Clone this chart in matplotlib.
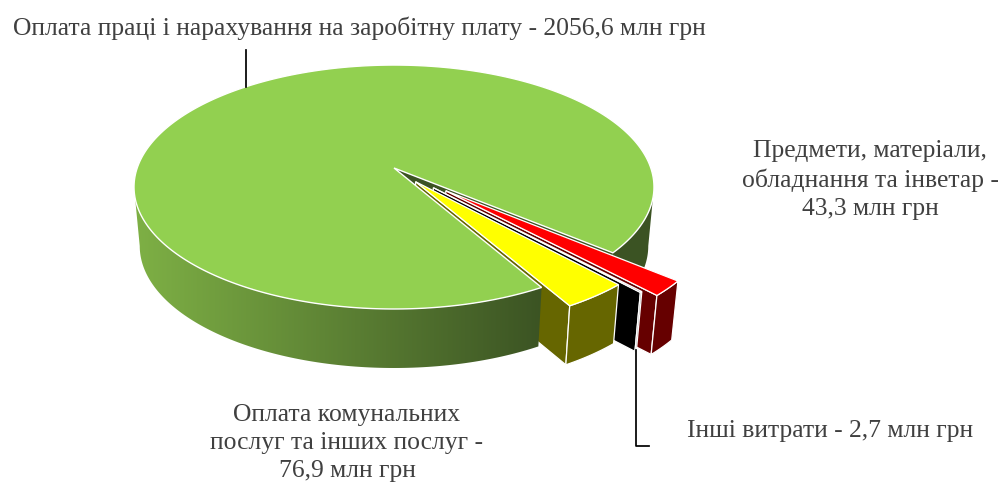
import numpy as np
import matplotlib
matplotlib.use("Agg")
import matplotlib.pyplot as plt
from matplotlib.patches import Polygon

# Data (clockwise from the start of the big slice)
names = ["Оплата праці", "Предмети", "Інші витрати", "Оплата комунальних"]
values = [2056.6, 43.3, 2.7, 76.9]
explode = [0.0, 0.27, 0.22, 0.14]
top_colors = ["#92D050", "#FF0000", "#000000", "#FFFF00"]
side_colors = ["#3B5323", "#660000", "#000000", "#666600"]

start_angle = 60.2

# Perspective of the disc, in pixels
CX, CY = 394.0, 168.0
A, B, K = 256.8, 119.0, 0.156
DEPTH = 59.0
SHRINK = 0.978
EDGE = np.degrees(np.arcsin(K))


def project(u, v):
    w = 1 - K * v
    return CX + A * u / w, CY + B * v / w


def lower(x, y):
    return CX + (x - CX) * SHRINK, y + DEPTH


def arc(a0, a1, off=(0, 0), n=120):
    t = np.radians(np.linspace(a0, a1, n))
    return project(np.cos(t) + off[0], np.sin(t) + off[1])


def strip(x, y):
    xb, yb = lower(x, y)
    return np.r_[np.c_[x, y], np.c_[xb, yb][::-1]]


fig = plt.figure(figsize=(10.03, 4.82), dpi=100)
ax = fig.add_axes([0, 0, 1, 1])

# Slice angles from the values
total = sum(values)
spans = [v / total * 360 for v in values]
starts = [start_angle + sum(spans[:i]) for i in range(len(spans))]
ends = [s + p for s, p in zip(starts, spans)]

# Big slice: inner wall, sides, top
g0, g1 = starts[0], ends[0]
px, py = project(0.0, 0.0)
ex, ey = arc(g1, g1, n=1)
wall = strip(np.array([px, ex[0]]), np.array([py, ey[0]]))
ax.add_patch(Polygon(wall, fc=side_colors[0], ec="none", zorder=1))

rx, ry = arc(EDGE, g1 - 360)
ax.add_patch(Polygon(strip(rx, ry), fc=side_colors[0], ec="none", zorder=1))

fx, fy = arc(g0, 180 - EDGE)
front = Polygon(strip(fx, fy), fc="none", ec="none", zorder=3)
ax.add_patch(front)
grad = np.linspace(0, 1, 256).reshape(1, -1, 1)
light = np.array([0x7E, 0xB0, 0x45]) / 255
dark = np.array([0x3B, 0x53, 0x23]) / 255
img = ax.imshow(light + (dark - light) * grad, extent=[135, 545, 400, 150],
                aspect="auto", zorder=3, interpolation="bilinear")
img.set_clip_path(front)

tx, ty = arc(g0, g1, n=400)
ax.add_patch(Polygon(np.r_[[[px, py]], np.c_[tx, ty]], fc=top_colors[0], ec="white", lw=1.0, zorder=4))

# Pulled out slices
for i in [1, 2, 3]:
    mid = np.radians((starts[i] + ends[i]) / 2)
    off = (explode[i] * np.cos(mid), explode[i] * np.sin(mid))
    ox, oy = project(off[0], off[1])
    ax_, ay_ = arc(starts[i], ends[i], off, n=30)
    z = 5 + i
    wx = np.array([ox, ax_[-1]])
    wy = np.array([oy, ay_[-1]])
    # cut wall sits behind the big slice, only its outer end shows
    ax.add_patch(Polygon(strip(wx, wy), fc=side_colors[i], ec="white", lw=0.9, zorder=2))
    ax.add_patch(Polygon(strip(ax_, ay_), fc=side_colors[i], ec="white", lw=0.9, zorder=z))
    ax.add_patch(Polygon(np.r_[[[ox, oy]], np.c_[ax_, ay_]], fc=top_colors[i], ec="white", lw=0.9, zorder=z))

# Leader lines
ax.plot([246, 246], [50, 87], color="black", lw=1.25, zorder=10)
ax.plot([636.5, 636.5, 649], [350, 446, 446], color="black", lw=1.25, zorder=10)

# Labels
font = dict(family="Liberation Serif", fontsize=18.43, color="#404040", zorder=11)
ax.text(13, 28, "Оплата праці і нарахування на заробітну плату - 2056,6 млн грн", ha="left", va="center", **font)
ax.text(870, 180, "Предмети, матеріали,\nобладнання та інветар -\n43,3 млн грн", ha="center", va="center", linespacing=1.37, **font)
ax.text(347, 443, "Оплата комунальних\nпослуг та інших послуг -\n76,9 млн грн", ha="center", va="center", linespacing=1.33, **font)
ax.text(687, 431, "Інші витрати - 2,7 млн грн", ha="left", va="center", **font)

ax.set_xlim(0, 1003)
ax.set_ylim(482, 0)
ax.axis("off")

fig.savefig("out.png", dpi=100)
